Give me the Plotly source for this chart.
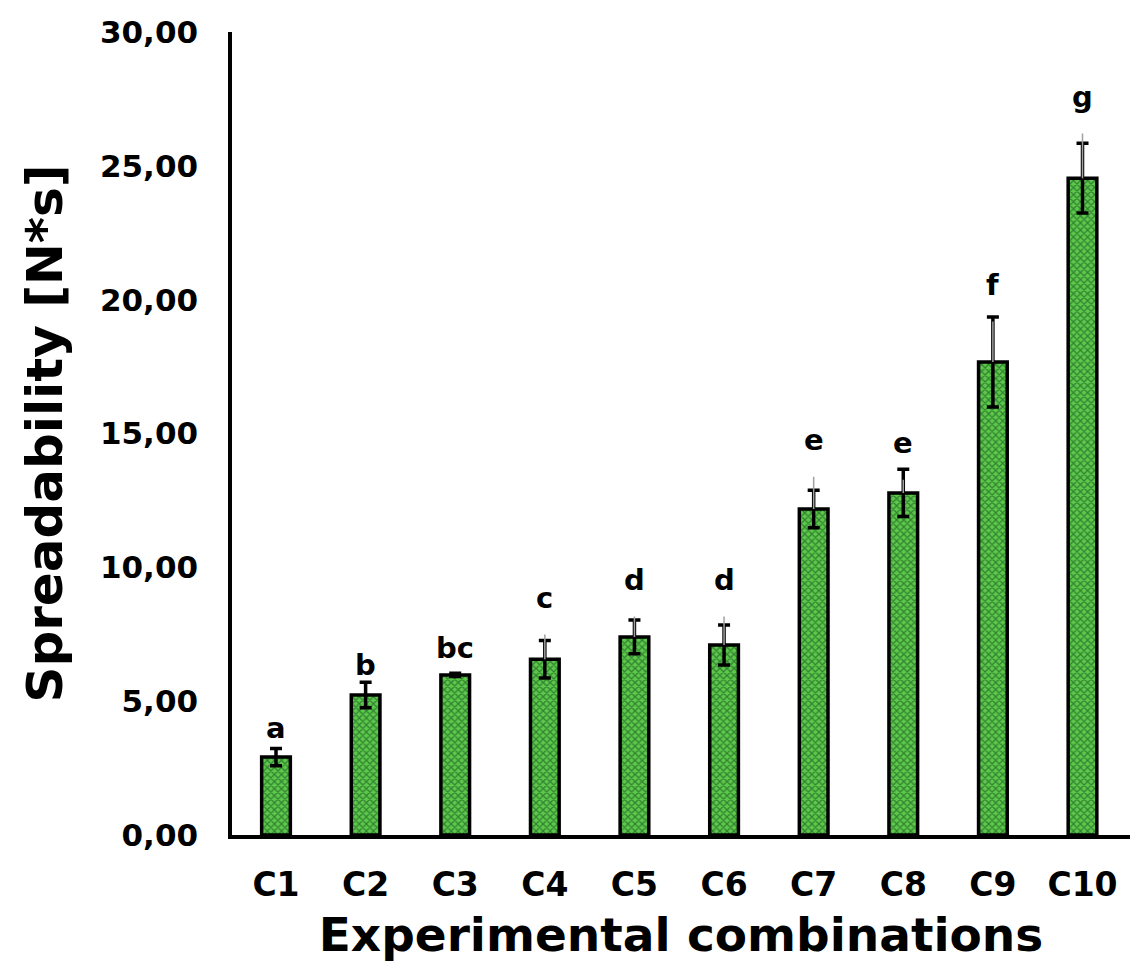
import plotly.graph_objects as go

categories = ["C1", "C2", "C3", "C4", "C5", "C6", "C7", "C8", "C9", "C10"]
means = [2.91, 5.23, 5.98, 6.57, 7.40, 7.10, 12.18, 12.78, 17.67, 24.54]
errors = [0.32, 0.48, 0.06, 0.70, 0.63, 0.75, 0.70, 0.88, 1.68, 1.30]
letters = ["a", "b", "bc", "c", "d", "d", "e", "e", "f", "g"]
letter_y = [4.0, 6.35, 6.98, 8.85, 9.53, 9.53, 14.75, 14.64, 20.55, 27.57]

xs = list(range(len(categories)))
FONT = "DejaVu Sans"

fig = go.Figure()
fig.add_trace(go.Bar(
    x=xs, y=means, width=0.32,
    marker=dict(
        color="#5cc94a",
        line=dict(color="black", width=3.5),
        pattern=dict(shape="x", fgcolor="#0b3a1a", bgcolor="#5cc94a", size=5, solidity=0.45),
    ),
    error_y=dict(type="data", array=errors, visible=True, color="black", thickness=3.5, width=6),
))

for x, m, e, lab, ly in zip(xs, means, errors, letters, letter_y):
    long_line = (ly - m) > 1.3
    if long_line:
        fig.add_annotation(
            x=x, y=m, ax=x, ay=ly, axref="x", ayref="y", xref="x", yref="y",
            text="<b>" + lab + "</b>", showarrow=True, arrowhead=0,
            arrowcolor="#a0a0a0", arrowwidth=1.5, standoff=0, startstandoff=18,
            font=dict(family=FONT, size=29, color="black"),
        )
    else:
        fig.add_annotation(x=x, y=ly, xref="x", yref="y", text="<b>" + lab + "</b>",
                           showarrow=False, font=dict(family=FONT, size=29, color="black"))

fig.update_layout(
    width=1122, height=954,
    margin=dict(l=224, r=0, t=24, b=127),
    plot_bgcolor="white", paper_bgcolor="white",
    separators=",.",
    showlegend=False,
    font=dict(family=FONT, color="black"),
    xaxis=dict(
        range=[-0.491, 9.53], tickvals=xs, ticktext=["<b>%s</b>" % c for c in categories],
        showline=True, linecolor="black", linewidth=3.5, showgrid=False, ticks="",
        ticklabelstandoff=18,
        tickfont=dict(family=FONT, size=33, color="black"),
        title=dict(text="<b>Experimental combinations</b>", font=dict(family=FONT, size=47, color="black"), standoff=24),
    ),
    yaxis=dict(
        range=[0, 30], dtick=5, tickformat=".2f", showline=True, linecolor="black", linewidth=3.5,
        showgrid=False, ticks="", zeroline=False, ticklabelstandoff=24,
        tickfont=dict(family=FONT, size=31, color="black"),
        tickprefix="<b>", ticksuffix="</b>",
        title=dict(text="<b>Spreadability [N*s]</b>", font=dict(family=FONT, size=50, color="black"), standoff=22),
    ),
)

fig.write_html("out.html")
